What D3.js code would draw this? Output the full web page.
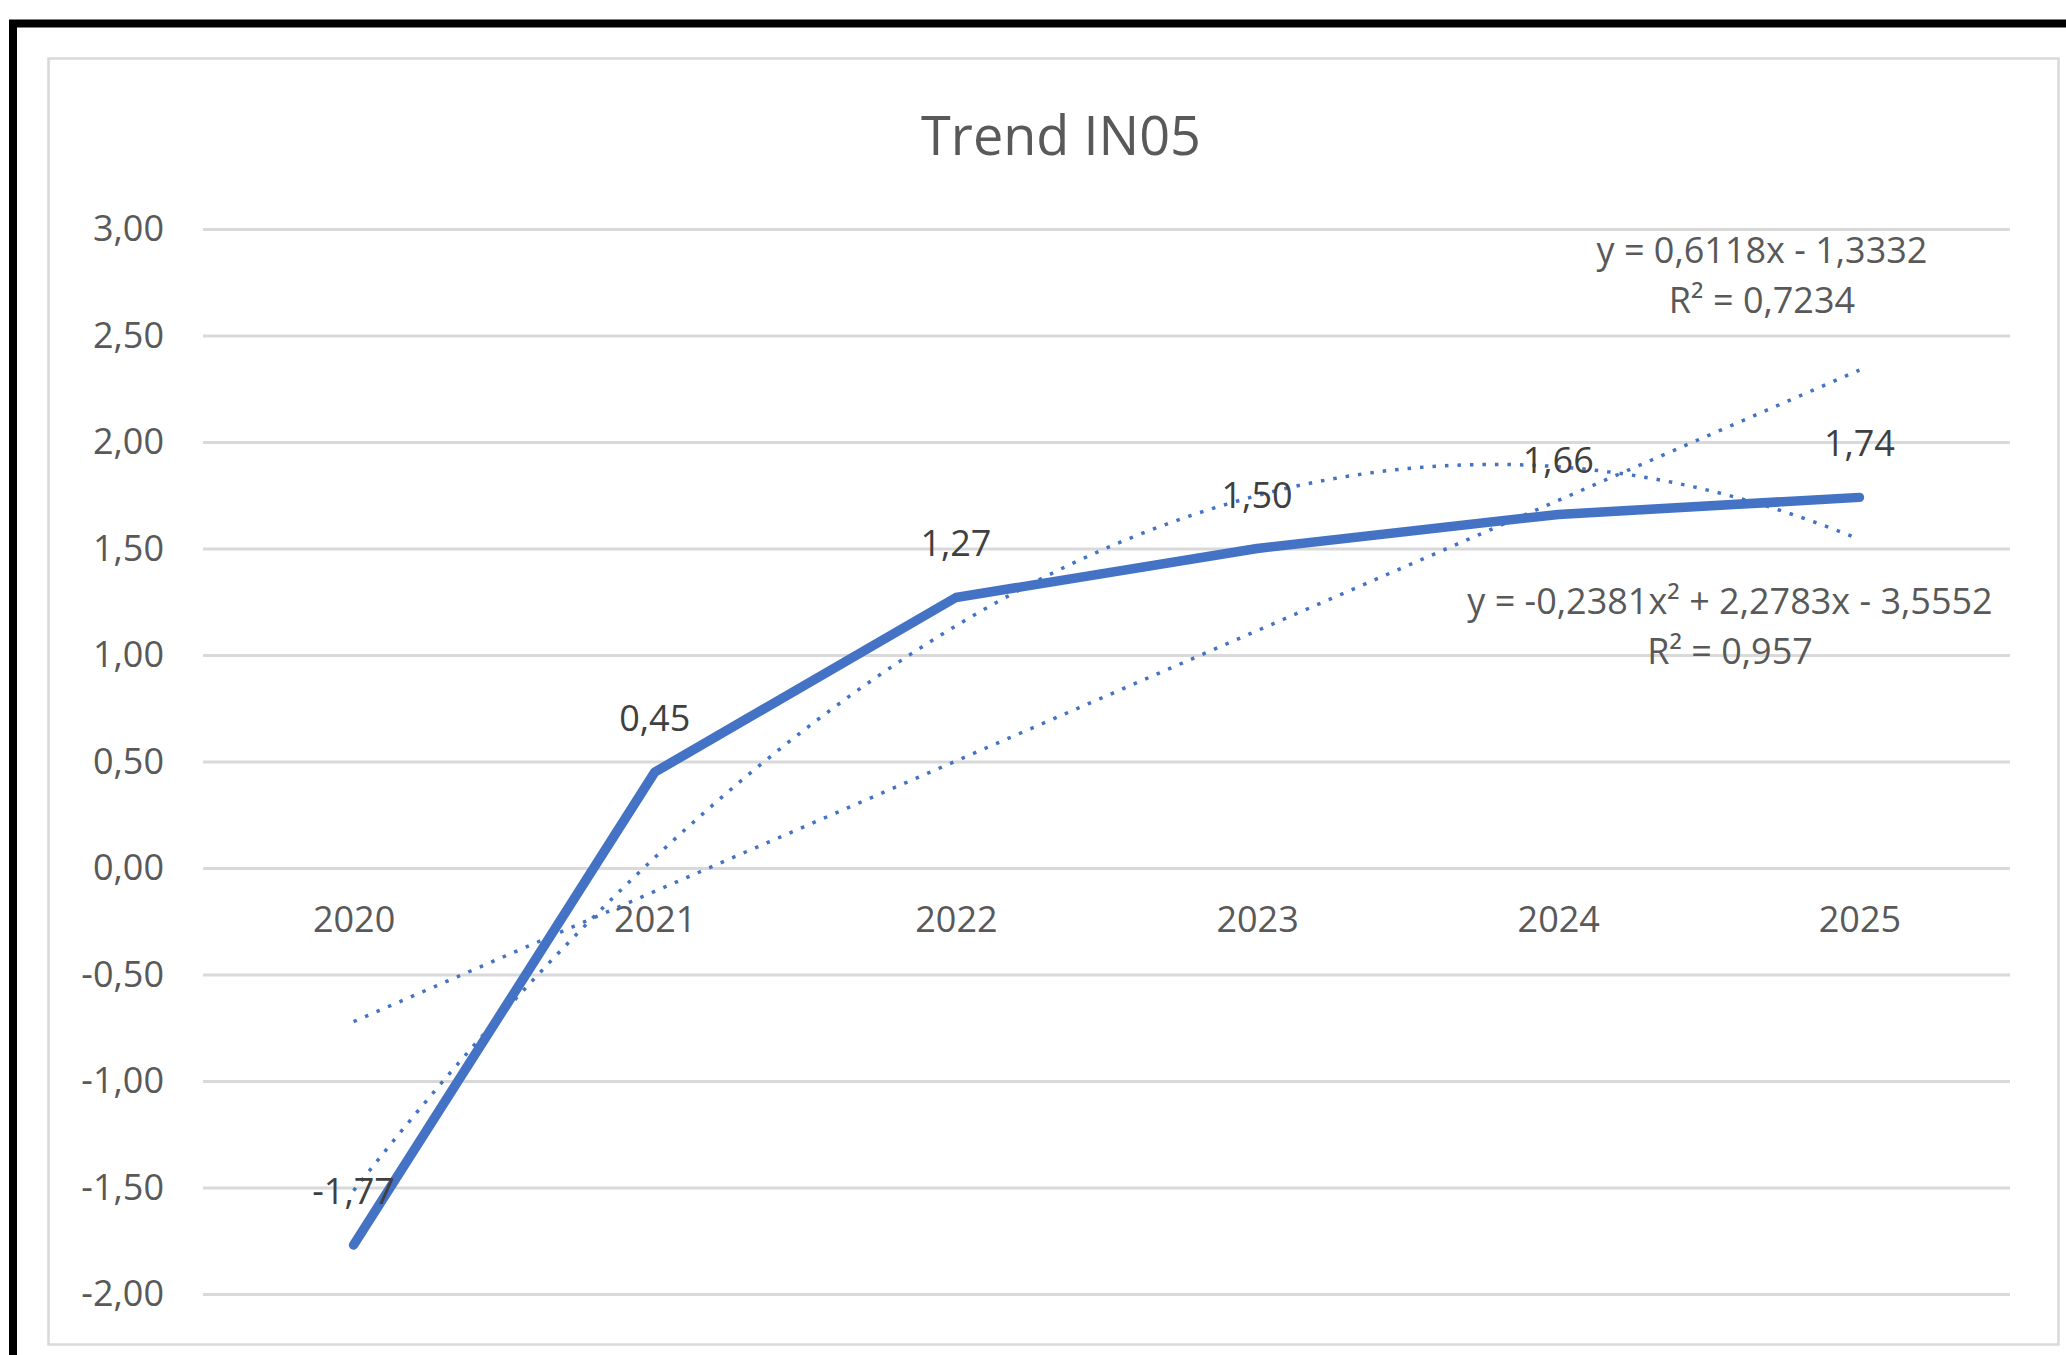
<!DOCTYPE html>
<html>
<head>
<meta charset="utf-8">
<script src="https://cdn.jsdelivr.net/npm/d3@7"></script>
<style>
  body { margin: 0; background: #fff; }
  svg { display: block; }
  text { font-family: "Open Sans", "Liberation Sans", sans-serif; }
</style>
</head>
<body>
<svg id="chart" width="2066" height="1355"></svg>
<script>
// values
var years = ["2020", "2021", "2022", "2023", "2024", "2025"];
var values = [-1.77, 0.45, 1.27, 1.50, 1.66, 1.74];
var yTicks = [-2, -1.5, -1, -0.5, 0, 0.5, 1, 1.5, 2, 2.5, 3];

// trendline coefficients as printed on the chart
var linCoef = [0.6118, -1.3332];
var polyCoef = [-0.2381, 2.2783, -3.5552];
var linLabel = ["y = 0,6118x - 1,3332", "R² = 0,7234"];
var polyLabel = ["y = -0,2381x² + 2,2783x - 3,5552", "R² = 0,957"];

var plot = {left: 203, right: 2010, top: 229, bottom: 1294};
var blue = "#4472C4";

var svg = d3.select("#chart");

var x = d3.scalePoint().domain(years).range([plot.left, plot.right]).padding(0.5);
var y = d3.scaleLinear().domain([-2, 3]).range([plot.bottom, plot.top]);
// trendline x runs 1..n over the category positions
var tx = d3.scaleLinear().domain([1, years.length]).range([x(years[0]), x(years[years.length - 1])]);

// excel style: decimal comma, plain hyphen for minus
var comma = function(v) { return d3.format(".2f")(v).replace(".", ",").replace("\u2212", "-"); };

// outer black frame (cut off at right/bottom) and the chart area box
svg.append("rect")
    .attr("x", 13).attr("y", 23.5)
    .attr("width", 2200).attr("height", 1500)
    .attr("fill", "none").attr("stroke", "#000").attr("stroke-width", 8);

svg.append("rect")
    .attr("x", 48.5).attr("y", 58.5)
    .attr("width", 2010).attr("height", 1286)
    .attr("fill", "#fff").attr("stroke", "#d9d9d9").attr("stroke-width", 2.5);

// title
svg.append("text")
    .attr("x", 1061).attr("y", 155)
    .attr("text-anchor", "middle")
    .style("font-size", "54px")
    .attr("fill", "#595959")
    .text("Trend IN05");

// y axis with gridlines
var yAxis = svg.append("g")
    .attr("transform", "translate(" + plot.left + ",0)")
    .call(d3.axisLeft(y).tickValues(yTicks).tickSize(-(plot.right - plot.left)).tickPadding(39).tickFormat(comma));
yAxis.select(".domain").remove();
yAxis.selectAll(".tick line").attr("stroke", "#d9d9d9").attr("stroke-width", 3);
yAxis.selectAll(".tick text")
    .attr("fill", "#595959")
    .style("font-size", "36px")
    .attr("font-family", null);

// x labels sit under the zero line
var xAxis = svg.append("g")
    .attr("transform", "translate(0," + y(0) + ")")
    .call(d3.axisBottom(x).tickSize(0).tickPadding(38));
xAxis.select(".domain").remove();
xAxis.selectAll(".tick text")
    .attr("fill", "#595959")
    .style("font-size", "36px")
    .attr("font-family", null);

// main series
var line = d3.line()
    .x(function(d, i) { return x(years[i]); })
    .y(function(d) { return y(d); });

svg.append("path")
    .datum(values)
    .attr("d", line)
    .attr("fill", "none")
    .attr("stroke", blue)
    .attr("stroke-width", 9.5)
    .attr("stroke-linejoin", "round")
    .attr("stroke-linecap", "round");

// trendlines
var steps = d3.range(1, years.length + 0.001, 0.05);
var trend = d3.line()
    .x(function(d) { return tx(d[0]); })
    .y(function(d) { return y(d[1]); });

var linPts = [1, years.length].map(function(t) { return [t, linCoef[0] * t + linCoef[1]]; });
var polyPts = steps.map(function(t) { return [t, polyCoef[0] * t * t + polyCoef[1] * t + polyCoef[2]]; });

[linPts, polyPts].forEach(function(pts) {
    svg.append("path")
        .datum(pts)
        .attr("d", trend)
        .attr("fill", "none")
        .attr("stroke", blue)
        .attr("stroke-width", 3.5)
        .attr("stroke-dasharray", "3.5,9");
});

// data labels
svg.append("g").selectAll("text")
    .data(values)
    .enter()
    .append("text")
    .attr("x", function(d, i) { return x(years[i]); })
    .attr("y", function(d) { return y(d) - 41; })
    .attr("text-anchor", "middle")
    .style("font-size", "36px")
    .attr("fill", "#404040")
    .text(comma);

// trendline equations
function eqLabel(lines, cx, baseline) {
    svg.append("g").selectAll("text")
        .data(lines)
        .enter()
        .append("text")
        .attr("x", cx)
        .attr("y", function(d, i) { return baseline + i * 50; })
        .attr("text-anchor", "middle")
        .style("font-size", "36px")
        .attr("fill", "#595959")
        .text(function(d) { return d; });
}
eqLabel(linLabel, 1762, 263);
eqLabel(polyLabel, 1730, 614);
</script>
</body>
</html>
